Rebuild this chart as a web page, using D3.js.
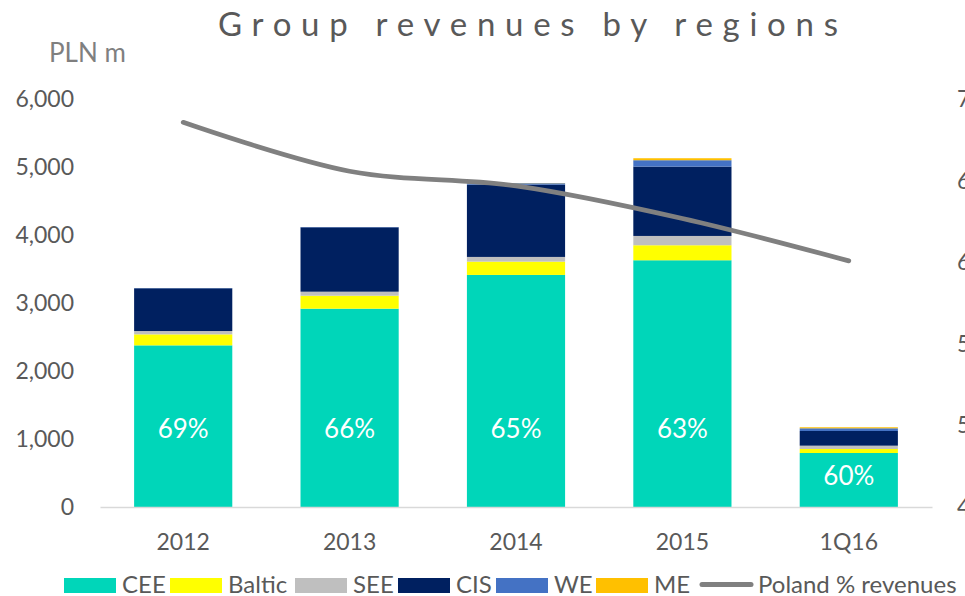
<!DOCTYPE html>
<html>
<head>
<meta charset="utf-8">
<script src="https://cdn.jsdelivr.net/npm/d3@7"></script>
<style>
  body { margin: 0; background: #fff; }
  svg { display: block; font-family: Lato, "Open Sans", sans-serif; }
</style>
</head>
<body>
<svg id="chart" width="965" height="596"></svg>
<script>
// data (PLN m)
var categories = ["2012", "2013", "2014", "2015", "1Q16"];
var seriesNames = ["CEE", "Baltic", "SEE", "CIS", "WE", "ME"];
var cee    = [2380, 2920, 3417, 3633, 795];
var baltic = [162, 191, 196, 221, 59];
var see    = [49, 59, 69, 137, 49];
var cis    = [629, 948, 1065, 1021, 216];
var we     = [3, 4, 20, 94, 40];
var me     = [0, 0, 3, 29, 15];
var polandShare = [68.6, 65.6, 64.7, 62.7, 60.1];
var shareLabels = ["69%", "66%", "65%", "63%", "60%"];
var leftTicks = [0, 1000, 2000, 3000, 4000, 5000, 6000];
var rightTicks = [45, 50, 55, 60, 65, 70];

var colors = {
  CEE: "#00d6b9", Baltic: "#ffff00", SEE: "#bfbfbf",
  CIS: "#002060", WE: "#4472c4", ME: "#ffc000"
};
var lineColor = "#808080";
var textColor = "#595959";

// build table for d3.stack
var table = categories.map(function(c, i) {
  return { cat: c, CEE: cee[i], Baltic: baltic[i], SEE: see[i],
           CIS: cis[i], WE: we[i], ME: me[i] };
});

var svg = d3.select("#chart");

var x = d3.scaleBand()
    .domain(categories)
    .range([100, 932])
    .paddingInner(0.41)
    .paddingOuter(0.205);

var y = d3.scaleLinear().domain([0, 6000]).range([507, 99.5]);
var y2 = d3.scaleLinear().domain([45, 70]).range([507, 99.5]);

// title
svg.append("text")
    .attr("x", 218)
    .attr("y", 36)
    .attr("textLength", 620)
    .attr("lengthAdjust", "spacing")
    .style("font-size", "33px")
    .style("fill", textColor)
    .text("Group revenues by regions");

svg.append("text")
    .attr("x", 49)
    .attr("y", 62)
    .style("font-size", "26px")
    .style("fill", "#7f7f7f")
    .text("PLN m");

// stacked bars
var stacked = d3.stack().keys(seriesNames)(table);

svg.append("g").selectAll("g")
    .data(stacked)
  .enter().append("g")
    .attr("fill", function(s) { return colors[s.key]; })
  .selectAll("rect")
    .data(function(s) { return s; })
  .enter().append("rect")
    .attr("x", function(d) { return x(d.data.cat); })
    .attr("width", x.bandwidth())
    .attr("y", function(d) { return y(d[1]); })
    .attr("height", function(d) { return y(d[0]) - y(d[1]); });

// left axis
var leftAxis = svg.append("g")
    .attr("transform", "translate(100,0)")
    .call(d3.axisLeft(y).tickValues(leftTicks).tickFormat(d3.format(","))
      .tickSize(0).tickPadding(26));
leftAxis.select(".domain").remove();

// right axis (runs off the edge like the original)
var rightAxis = svg.append("g")
    .attr("transform", "translate(932,0)")
    .call(d3.axisRight(y2).tickValues(rightTicks)
      .tickFormat(function(d) { return d + "%"; })
      .tickSize(0).tickPadding(25));
rightAxis.select(".domain").remove();

// bottom axis
var bottomAxis = svg.append("g")
    .attr("transform", "translate(0,507)")
    .call(d3.axisBottom(x).tickSize(0).tickPadding(27).tickSizeOuter(0));
bottomAxis.select(".domain")
    .attr("stroke", "#d9d9d9")
    .attr("stroke-width", 1.5);

svg.selectAll(".tick text")
    .style("font-family", "Lato, 'Open Sans', sans-serif")
    .style("font-size", "23px")
    .style("fill", textColor);

// Poland share line
var line = d3.line()
    .x(function(d, i) { return x(categories[i]) + x.bandwidth() / 2; })
    .y(function(d) { return y2(d); })
    .curve(d3.curveCatmullRom.alpha(0.5));

svg.append("path")
    .datum(polandShare)
    .attr("d", line)
    .attr("fill", "none")
    .attr("stroke", lineColor)
    .attr("stroke-width", 4.7)
    .attr("stroke-linecap", "round");

// share labels inside the CEE part
svg.append("g").selectAll("text")
    .data(shareLabels)
  .enter().append("text")
    .attr("x", function(d, i) { return x(categories[i]) + x.bandwidth() / 2; })
    .attr("y", function(d, i) { return y(Math.min(cee[i] * 0.57, 1150)); })
    .attr("dy", "0.35em")
    .attr("text-anchor", "middle")
    .style("font-size", "26px")
    .style("fill", "#fff")
    .text(function(d) { return d; });

// legend
var legendItems = [
  { name: "CEE", x: 64 }, { name: "Baltic", x: 170 }, { name: "SEE", x: 295 },
  { name: "CIS", x: 398 }, { name: "WE", x: 496 }, { name: "ME", x: 596 }
];

var legend = svg.append("g");
legendItems.forEach(function(it) {
  legend.append("rect")
      .attr("x", it.x)
      .attr("y", 578)
      .attr("width", 52)
      .attr("height", 15)
      .attr("fill", colors[it.name]);
  legend.append("text")
      .attr("x", it.x + 58)
      .attr("y", 593)
      .style("font-size", "24px")
      .style("fill", textColor)
      .text(it.name);
});

legend.append("line")
    .attr("x1", 702).attr("x2", 751)
    .attr("y1", 584.5).attr("y2", 584.5)
    .attr("stroke", lineColor)
    .attr("stroke-width", 5)
    .attr("stroke-linecap", "round");
legend.append("text")
    .attr("x", 758)
    .attr("y", 593)
    .style("font-size", "24px")
    .style("fill", textColor)
    .text("Poland % revenues");
</script>
</body>
</html>
